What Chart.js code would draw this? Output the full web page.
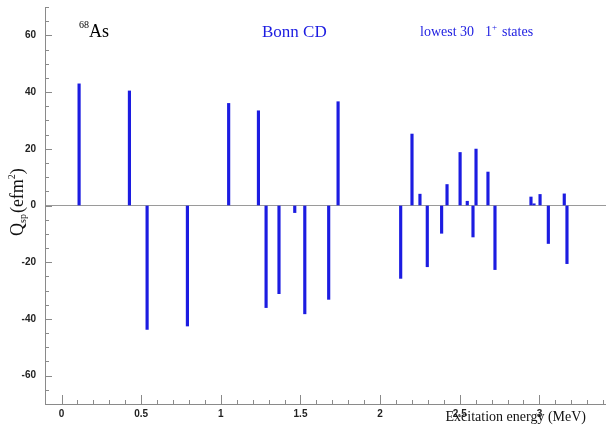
<!DOCTYPE html>
<html>
<head>
<meta charset="utf-8">
<script src="https://cdn.jsdelivr.net/npm/chart.js@4/dist/chart.umd.min.js"></script>
<style>
  html, body { margin: 0; padding: 0; background: #fff; }
  #wrap { width: 606px; height: 437px; position: relative; }
</style>
</head>
<body>
<div id="wrap"><canvas id="qspChart"></canvas></div>
<script>
// excitation energies (MeV) of the lowest 30 1+ states
const energies = [0.110, 0.426, 0.537, 0.790, 1.049, 1.236, 1.284, 1.365, 1.464, 1.527,
                  1.677, 1.736, 2.129, 2.200, 2.250, 2.296, 2.386, 2.420, 2.502, 2.547,
                  2.583, 2.602, 2.677, 2.721, 2.947, 2.966, 3.004, 3.056, 3.156, 3.173];
// spectroscopic quadrupole moments Q_sp (e fm^2)
const qsp = [42.9, 40.4, -43.7, -42.5, 36.0, 33.4, -36.0, -31.1, -2.5, -38.2,
             -33.1, 36.6, -25.7, 25.2, 4.0, -21.6, -9.8, 7.4, 18.7, 1.5,
             -11.1, 19.9, 11.8, -22.6, 3.0, 0.6, 3.9, -13.4, 4.1, -20.5];

const xTickLabels = [0, 0.5, 1, 1.5, 2, 2.5, 3];
const yTickLabels = [-60, -40, -20, 0, 20, 40, 60];

const barColor = 'rgb(28, 28, 225)';
const axisColor = '#8a8a8a';

// chart.js adds room for half tick labels at the ends, the frame here doesn't
function noScalePadding(scale) {
    scale.paddingLeft = 0;
    scale.paddingRight = 0;
    scale.paddingTop = 0;
    scale.paddingBottom = 0;
}

// ROOT style ticks pointing into the frame
const innerTicks = {
    id: 'innerTicks',
    afterDraw(chart) {
        const { ctx, chartArea, scales } = chart;
        ctx.save();
        ctx.strokeStyle = axisColor;
        ctx.lineWidth = 1;
        scales.x.ticks.forEach(t => {
            const px = Math.round(scales.x.getPixelForValue(t.value)) + 0.5;
            const major = xTickLabels.some(v => Math.abs(v - t.value) < 1e-6);
            ctx.beginPath();
            ctx.moveTo(px, chartArea.bottom);
            ctx.lineTo(px, chartArea.bottom - (major ? 9 : 4));
            ctx.stroke();
        });
        scales.y.ticks.forEach(t => {
            const py = Math.round(scales.y.getPixelForValue(t.value)) + 0.5;
            const major = yTickLabels.includes(t.value);
            ctx.beginPath();
            ctx.moveTo(chartArea.left, py);
            ctx.lineTo(chartArea.left + (major ? 7 : 4), py);
            ctx.stroke();
        });
        ctx.restore();
    }
};

// text labels inside the frame and axis titles
const annotations = {
    id: 'annotations',
    afterDraw(chart) {
        const ctx = chart.ctx;
        ctx.save();
        ctx.textBaseline = 'alphabetic';

        ctx.fillStyle = '#000';
        ctx.font = '10px "Liberation Serif"';
        ctx.fillText('68', 79, 28);
        ctx.font = '18px "Liberation Serif"';
        ctx.fillText('As', 89, 37);

        ctx.fillStyle = barColor;
        ctx.font = '17px "Liberation Serif"';
        ctx.fillText('Bonn CD', 262, 37);

        ctx.font = '14px "Liberation Serif"';
        ctx.fillText('lowest 30', 420, 36);
        ctx.fillText('1', 485, 36);
        ctx.font = '9px "Liberation Serif"';
        ctx.fillText('+', 492, 30);
        ctx.font = '14px "Liberation Serif"';
        ctx.fillText('states', 502, 36);

        // x title
        ctx.fillStyle = '#111';
        ctx.font = '14px "Liberation Serif"';
        ctx.textAlign = 'right';
        ctx.fillText('Excitation energy (MeV)', 586, 421);

        // y title, rotated
        ctx.textAlign = 'left';
        ctx.translate(23, 236);
        ctx.rotate(-Math.PI / 2);
        let x = 0;
        ctx.font = '18px "Liberation Serif"';
        ctx.fillText('Q', 0, 0);
        x += ctx.measureText('Q').width;
        ctx.font = '10px "Liberation Serif"';
        ctx.fillText('sp', x, 3);
        x += ctx.measureText('sp').width + 1;
        ctx.font = '18px "Liberation Serif"';
        ctx.fillText('(efm', x, 0);
        x += ctx.measureText('(efm').width;
        ctx.font = '10px "Liberation Serif"';
        ctx.fillText('2', x, -8);
        x += ctx.measureText('2').width;
        ctx.font = '18px "Liberation Serif"';
        ctx.fillText(')', x, 0);
        ctx.restore();
    }
};

const points = energies.map((e, i) => ({ x: e, y: qsp[i] }));

new Chart(document.getElementById('qspChart'), {
    type: 'bar',
    data: {
        datasets: [{
            data: points,
            backgroundColor: barColor,
            borderWidth: 0,
            barThickness: 2.5
        }]
    },
    options: {
        responsive: true,
        maintainAspectRatio: false,
        animation: false,
        layout: { padding: { top: 7, left: 0, right: 0, bottom: 0 } },
        plugins: {
            legend: { display: false },
            tooltip: { enabled: false }
        },
        scales: {
            x: {
                type: 'linear',
                offset: false,
                min: -0.104,
                max: 3.418,
                afterBuildTicks: scale => {
                    const ticks = [];
                    for (let i = 0; i <= 34; i++) ticks.push({ value: i / 10 });
                    scale.ticks = ticks;
                },
                afterFit: scale => {
                    scale.height = 33;
                    noScalePadding(scale);
                },
                grid: { display: false, drawTicks: false, offset: false },
                border: { display: true, color: axisColor, width: 1 },
                ticks: {
                    autoSkip: false,
                    maxRotation: 0,
                    padding: 4,
                    color: '#222',
                    font: { family: '"Liberation Sans", Arial', size: 10, weight: 'bold' },
                    callback: v => {
                        const m = xTickLabels.find(t => Math.abs(t - v) < 1e-6);
                        return m === undefined ? '' : String(m);
                    }
                }
            },
            y: {
                min: -70,
                max: 70,
                afterBuildTicks: scale => {
                    const ticks = [];
                    for (let v = -70; v <= 70; v += 5) ticks.push({ value: v });
                    scale.ticks = ticks;
                },
                afterFit: scale => {
                    scale.width = 45;
                    noScalePadding(scale);
                },
                grid: {
                    drawTicks: false,
                    color: c => (c.tick && c.tick.value === 0) ? '#9a9a9a' : 'rgba(0,0,0,0)',
                    lineWidth: 1
                },
                border: { display: true, color: axisColor, width: 1 },
                ticks: {
                    autoSkip: false,
                    padding: 9,
                    color: '#222',
                    font: { family: '"Liberation Sans", Arial', size: 10, weight: 'bold' },
                    callback: v => yTickLabels.includes(v) ? String(v) : ''
                }
            }
        }
    },
    plugins: [innerTicks, annotations]
});
</script>
</body>
</html>
